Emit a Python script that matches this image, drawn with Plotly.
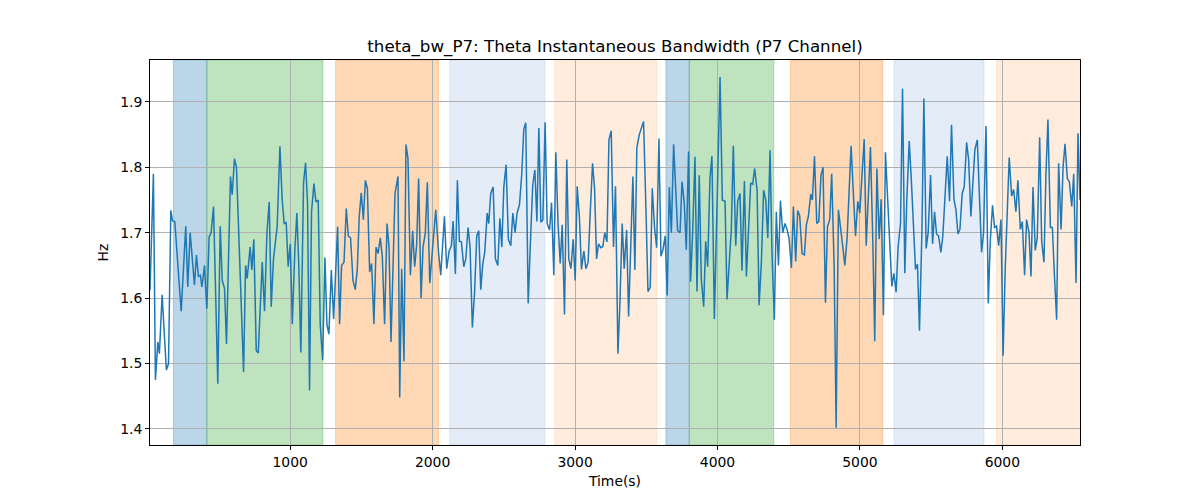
import plotly.graph_objects as go

# ---- data ----
time_s = [16, 40, 54, 71, 82, 101, 131, 146, 162, 174, 190, 235, 267, 281, 298, 312, 328, 342, 356, 370,
          380, 389, 399, 406, 415, 431, 445, 462, 492, 509, 523, 539, 553, 581, 593, 609, 623, 673, 687, 698,
          719, 731, 745, 762, 776, 804, 820, 837, 853, 867, 883, 909, 928, 944, 958, 972, 986, 1001, 1015, 1033,
          1047, 1061, 1075, 1094, 1108, 1122, 1136, 1150, 1167, 1181, 1197, 1211, 1228, 1244, 1258, 1272, 1289, 1305, 1333, 1347,
          1361, 1378, 1394, 1408, 1424, 1441, 1457, 1471, 1485, 1499, 1514, 1528, 1542, 1558, 1572, 1588, 1603, 1617, 1633, 1647,
          1663, 1680, 1694, 1708, 1736, 1757, 1769, 1783, 1799, 1813, 1827, 1844, 1860, 1874, 1888, 1902, 1919, 1933, 1949, 1963,
          1980, 1996, 2022, 2041, 2057, 2083, 2099, 2116, 2132, 2144, 2160, 2174, 2188, 2202, 2219, 2233, 2249, 2263, 2279, 2294,
          2310, 2324, 2338, 2352, 2366, 2383, 2394, 2408, 2425, 2441, 2458, 2472, 2486, 2500, 2516, 2532, 2549, 2563, 2579, 2593,
          2610, 2626, 2640, 2654, 2671, 2687, 2703, 2718, 2732, 2746, 2760, 2774, 2790, 2804, 2821, 2835, 2851, 2865, 2881, 2896,
          2910, 2926, 2942, 2956, 2971, 2987, 3001, 3015, 3031, 3045, 3062, 3076, 3092, 3106, 3123, 3137, 3151, 3165, 3181, 3195,
          3209, 3224, 3238, 3254, 3270, 3284, 3301, 3315, 3331, 3345, 3362, 3376, 3392, 3406, 3420, 3434, 3451, 3465, 3481, 3498,
          3512, 3528, 3542, 3558, 3573, 3589, 3603, 3617, 3633, 3647, 3662, 3676, 3692, 3706, 3720, 3737, 3751, 3767, 3781, 3797,
          3811, 3826, 3842, 3856, 3872, 3886, 3903, 3917, 3931, 3947, 3961, 3978, 4018, 4034, 4053, 4067, 4083, 4097, 4111, 4128,
          4142, 4158, 4172, 4189, 4203, 4219, 4233, 4247, 4261, 4278, 4292, 4308, 4324, 4339, 4353, 4369, 4383, 4399, 4413, 4428,
          4442, 4458, 4474, 4488, 4502, 4519, 4533, 4549, 4563, 4577, 4594, 4610, 4624, 4638, 4655, 4666, 4681, 4697, 4711, 4727,
          4741, 4758, 4772, 4788, 4802, 4819, 4833, 4849, 4863, 4880, 4894, 4910, 4924, 4938, 4955, 4969, 4985, 4999, 5013, 5030,
          5044, 5058, 5074, 5090, 5104, 5119, 5135, 5149, 5165, 5179, 5194, 5210, 5224, 5238, 5254, 5268, 5285, 5299, 5315, 5329,
          5346, 5362, 5376, 5390, 5404, 5418, 5435, 5449, 5465, 5479, 5496, 5510, 5524, 5538, 5552, 5568, 5582, 5599, 5613, 5629,
          5643, 5660, 5674, 5688, 5702, 5718, 5732, 5749, 5763, 5779, 5793, 5807, 5824, 5838, 5854, 5868, 5885, 5901, 5915, 5931,
          5945, 5959, 5974, 5990, 6005, 6020, 6034, 6048, 6065, 6079, 6095, 6109, 6126, 6140, 6156, 6170, 6187, 6201, 6215, 6231,
          6245, 6262, 6276, 6292, 6306, 6320, 6337, 6351, 6365, 6381, 6395, 6412, 6426, 6440, 6456, 6470, 6487, 6501, 6517, 6531,
          6545]

theta_bw = [1.612, 1.790, 1.475, 1.533, 1.515, 1.605, 1.490, 1.500, 1.734, 1.718, 1.717, 1.580, 1.710, 1.617, 1.700, 1.660, 1.620, 1.666, 1.633, 1.635,
            1.617, 1.632, 1.650, 1.617, 1.584, 1.693, 1.700, 1.740, 1.469, 1.710, 1.627, 1.615, 1.530, 1.786, 1.758, 1.813, 1.800, 1.487, 1.650, 1.630,
            1.678, 1.643, 1.690, 1.520, 1.516, 1.655, 1.580, 1.700, 1.747, 1.587, 1.660, 1.710, 1.832, 1.750, 1.714, 1.716, 1.648, 1.683, 1.560, 1.674,
            1.730, 1.648, 1.517, 1.776, 1.807, 1.745, 1.459, 1.732, 1.775, 1.747, 1.750, 1.560, 1.505, 1.662, 1.560, 1.545, 1.643, 1.568, 1.709, 1.560,
            1.650, 1.655, 1.737, 1.695, 1.692, 1.627, 1.613, 1.643, 1.725, 1.761, 1.720, 1.780, 1.768, 1.640, 1.653, 1.560, 1.678, 1.668, 1.692, 1.663,
            1.560, 1.714, 1.678, 1.533, 1.760, 1.786, 1.448, 1.645, 1.503, 1.835, 1.814, 1.635, 1.703, 1.648, 1.681, 1.783, 1.600, 1.678, 1.700, 1.777,
            1.623, 1.666, 1.735, 1.672, 1.635, 1.725, 1.645, 1.672, 1.680, 1.718, 1.637, 1.780, 1.687, 1.686, 1.648, 1.660, 1.708, 1.678, 1.555, 1.606,
            1.695, 1.703, 1.613, 1.652, 1.670, 1.730, 1.714, 1.760, 1.770, 1.660, 1.650, 1.722, 1.678, 1.770, 1.804, 1.690, 1.680, 1.730, 1.700, 1.730,
            1.743, 1.790, 1.858, 1.868, 1.592, 1.687, 1.773, 1.796, 1.717, 1.860, 1.716, 1.720, 1.869, 1.714, 1.704, 1.746, 1.635, 1.823, 1.712, 1.653,
            1.712, 1.575, 1.812, 1.660, 1.645, 1.690, 1.627, 1.771, 1.722, 1.644, 1.672, 1.645, 1.655, 1.728, 1.806, 1.768, 1.660, 1.683, 1.677, 1.679,
            1.700, 1.686, 1.842, 1.856, 1.678, 1.771, 1.515, 1.592, 1.714, 1.645, 1.704, 1.572, 1.680, 1.786, 1.643, 1.830, 1.850, 1.860, 1.870, 1.735,
            1.610, 1.617, 1.768, 1.708, 1.677, 1.844, 1.664, 1.674, 1.695, 1.604, 1.770, 1.700, 1.835, 1.770, 1.703, 1.700, 1.778, 1.745, 1.674, 1.824,
            1.625, 1.703, 1.816, 1.610, 1.788, 1.630, 1.587, 1.687, 1.648, 1.783, 1.817, 1.568, 1.938, 1.750, 1.748, 1.598, 1.660, 1.705, 1.833, 1.680,
            1.748, 1.760, 1.642, 1.779, 1.633, 1.712, 1.776, 1.774, 1.798, 1.765, 1.589, 1.654, 1.765, 1.750, 1.692, 1.826, 1.666, 1.567, 1.732, 1.650,
            1.749, 1.700, 1.714, 1.705, 1.692, 1.646, 1.740, 1.656, 1.734, 1.726, 1.668, 1.666, 1.712, 1.725, 1.759, 1.750, 1.817, 1.714, 1.717, 1.788,
            1.800, 1.593, 1.709, 1.720, 1.790, 1.648, 1.402, 1.735, 1.705, 1.678, 1.650, 1.692, 1.763, 1.833, 1.755, 1.695, 1.748, 1.730, 1.783, 1.843,
            1.680, 1.745, 1.831, 1.692, 1.534, 1.798, 1.690, 1.751, 1.574, 1.823, 1.753, 1.690, 1.618, 1.638, 1.609, 1.678, 1.714, 1.920, 1.638, 1.750,
            1.840, 1.776, 1.717, 1.644, 1.652, 1.550, 1.700, 1.905, 1.676, 1.700, 1.788, 1.683, 1.732, 1.698, 1.695, 1.670, 1.695, 1.760, 1.817, 1.748,
            1.865, 1.751, 1.735, 1.698, 1.705, 1.760, 1.770, 1.838, 1.812, 1.725, 1.768, 1.827, 1.842, 1.754, 1.670, 1.700, 1.863, 1.592, 1.687, 1.742,
            1.708, 1.710, 1.680, 1.720, 1.512, 1.645, 1.742, 1.815, 1.756, 1.766, 1.732, 1.780, 1.705, 1.717, 1.635, 1.720, 1.700, 1.633, 1.770, 1.673,
            1.692, 1.846, 1.687, 1.655, 1.790, 1.873, 1.708, 1.708, 1.637, 1.567, 1.806, 1.705, 1.800, 1.836, 1.783, 1.778, 1.740, 1.790, 1.623, 1.852,
            1.750]

# shaded intervals (start, end, kind)
span_starts = [180, 415, 1319, 2120, 2858, 3638, 3802, 4512, 5240, 5959]
span_ends = [415, 1230, 2041, 2788, 3573, 3802, 4395, 5161, 5871, 6560]
span_kinds = ["blue", "green", "orange", "lightblue", "lightorange",
              "blue", "green", "orange", "lightblue", "lightorange"]

y_ticks = [1.4, 1.5, 1.6, 1.7, 1.8, 1.9]
x_ticks = [1000, 2000, 3000, 4000, 5000, 6000]

kind_fill = {
    "blue": "rgba(31,119,180,0.30)",
    "green": "rgba(44,160,44,0.30)",
    "orange": "rgba(255,127,14,0.30)",
    "lightblue": "rgba(120,160,215,0.20)",
    "lightorange": "rgba(255,160,80,0.20)",
}

FONT = "DejaVu Sans"

fig = go.Figure()
fig.add_trace(go.Scatter(x=time_s, y=theta_bw, mode="lines",
                         line=dict(color="#1f77b4", width=1.5), showlegend=False))

shapes = []
for s, e, k in zip(span_starts, span_ends, span_kinds):
    shapes.append(dict(type="rect", xref="x", yref="paper", x0=s, x1=e, y0=0, y1=1,
                       fillcolor=kind_fill[k], line=dict(color=kind_fill[k], width=1),
                       layer="below"))

fig.update_layout(
    width=1200, height=500,
    margin=dict(l=142, r=128, t=52, b=63),
    paper_bgcolor="white", plot_bgcolor="rgba(0,0,0,0)",
    shapes=shapes,
    font=dict(family=FONT, size=13.9, color="black"),
    title=dict(text="theta_bw_P7: Theta Instantaneous Bandwidth (P7 Channel)",
               x=0.5, xref="paper", xanchor="center",
               y=1 - 38 / 500, yref="container", yanchor="middle",
               font=dict(family=FONT, size=16.7, color="black")),
)
fig.update_xaxes(range=[16, 6545], tickvals=x_ticks, ticktext=[str(v) for v in x_ticks],
                 showgrid=True, gridcolor="#b0b0b0", gridwidth=0.8,
                 showline=True, linecolor="black", linewidth=1, mirror=True,
                 ticks="outside", ticklen=4, tickcolor="black",
                 zeroline=False, title=dict(text="Time(s)", font=dict(size=13.9), standoff=7))
fig.update_yaxes(range=[1.3755, 1.964], tickvals=y_ticks, ticktext=[f"{v:.1f}" for v in y_ticks],
                 showgrid=True, gridcolor="#b0b0b0", gridwidth=0.8,
                 showline=True, linecolor="black", linewidth=1, mirror=True,
                 ticks="outside", ticklen=4, tickcolor="black",
                 zeroline=False, title=dict(text="Hz", font=dict(size=13.9), standoff=8))

fig.write_html("out.html")
